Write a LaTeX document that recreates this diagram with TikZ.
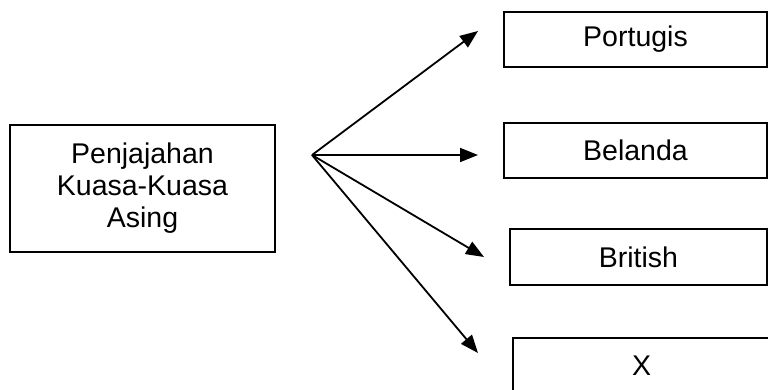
\documentclass[tikz,border=0pt]{standalone}
\usepackage{fontspec}
\setmainfont{Liberation Sans}
\usetikzlibrary{arrows.meta}
\begin{document}
\begin{tikzpicture}[x=1pt,y=-1pt,line width=1.8pt,>={Triangle[length=18pt,width=14pt]},
    kotak/.style={draw,inner sep=0pt,minimum width=263pt,minimum height=55pt,font=\fontsize{28.5}{32}\selectfont}]
    \useasboundingbox (0,0) rectangle (768,390);
    \node[kotak,minimum width=265pt,minimum height=127pt,align=center](kuasa)at(142.5,188.5){Penjajahan\\Kuasa-Kuasa\\Asing};
    \node[kotak](portugis)at(635.5,39.5){Portugis};
    \node[kotak](belanda)at(635.5,150.5){Belanda};
    \node[kotak,minimum width=257pt,minimum height=56pt](british)at(638.5,257){British};
    \node[kotak,minimum width=257pt,minimum height=56pt](x)at(641.5,366){X};
    \coordinate(pangkal)at(312,155);
    \coordinate(ke portugis)at(478,31);
    \coordinate(ke belanda)at(478,155);
    \coordinate(ke british)at(484,257);
    \coordinate(ke x)at(478,353);
    \foreach \n in {portugis,belanda,british,x}
        \draw[->](pangkal)--(ke \n);
\end{tikzpicture}
\end{document}
